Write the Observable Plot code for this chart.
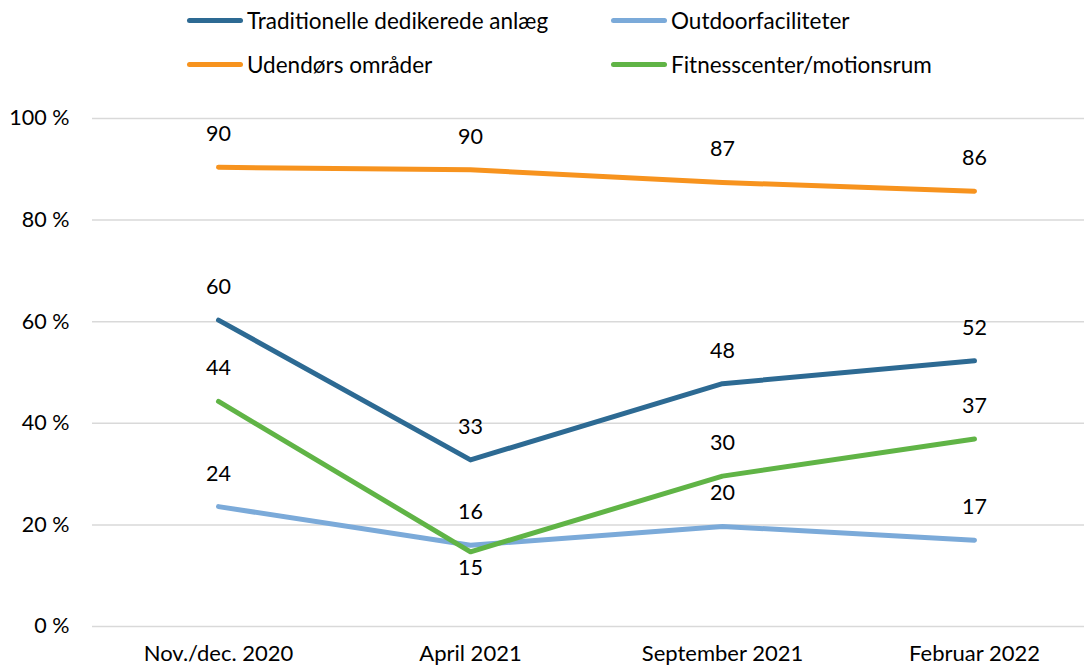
<!DOCTYPE html>
<html><head><meta charset="utf-8">
<script src="https://cdn.jsdelivr.net/npm/d3@7"></script>
<script src="https://cdn.jsdelivr.net/npm/@observablehq/plot@0.6"></script>
<style>
html,body{margin:0;padding:0;background:#fff;overflow:hidden;}
body{width:1084px;height:666px;font-family:Lato,"Open Sans",sans-serif;}
#legend{position:relative;height:90px;width:1084px;}
.li{position:absolute;display:flex;align-items:center;font-size:22.5px;color:#000;white-space:nowrap;}
.sw{width:56px;height:5px;border-radius:3px;margin-right:4px;}
</style></head>
<body>
<div id="legend"></div>
<div id="chart"></div>
<script>
const periods = ["Nov./dec. 2020", "April 2021", "September 2021", "Februar 2022"];
const seriesNames = ["Traditionelle dedikerede anlæg", "Outdoorfaciliteter", "Udendørs områder", "Fitnesscenter/motionsrum"];
const traditionelle = [60.3, 32.8, 47.8, 52.3];
const outdoor = [23.6, 16.0, 19.7, 17.0];
const udendors = [90.4, 89.9, 87.4, 85.7];
const fitness = [44.3, 14.7, 29.6, 36.9];
const colors = ["#2D6A93", "#7BAAD9", "#F7931E", "#60B446"];
const yTicks = [0, 20, 40, 60, 80, 100];

const valuesBySeries = [traditionelle, outdoor, udendors, fitness];
const data = [];
seriesNames.forEach((s, i) => periods.forEach((p, j) => data.push({series: s, period: p, value: valuesBySeries[i][j]})));

// legend
const legend = document.getElementById("legend");
const legendPos = [[187, 22], [611, 22], [187, 66], [611, 66]];
seriesNames.forEach((s, i) => {
  const d = document.createElement("div");
  d.className = "li";
  d.style.left = legendPos[i][0] + "px";
  d.style.top = (legendPos[i][1] - 15) + "px";
  d.innerHTML = `<div class="sw" style="background:${colors[i]}"></div><span>${s}</span>`;
  legend.appendChild(d);
});

const isBelow = d => d.series === "Fitnesscenter/motionsrum" && d.period === "April 2021";
const font = 21.5;

const chart = Plot.plot({
  width: 1084,
  height: 576,
  marginTop: 28,
  marginBottom: 40,
  marginLeft: 92,
  marginRight: 0,
  style: {fontFamily: "Lato, 'Open Sans', sans-serif", fontSize: font + "px", color: "#000", background: "#fff"},
  x: {type: "point", domain: periods, range: [217, 975], padding: 0, label: null},
  y: {domain: [0, 100], label: null},
  color: {domain: seriesNames, range: colors},
  marks: [
    Plot.ruleY(yTicks, {stroke: "#d9d9d9", strokeWidth: 1.5}),
    Plot.axisY(yTicks, {tickSize: 0, tickPadding: 23, tickFormat: d => d + " %", fontSize: font}),
    Plot.axisX({tickSize: 0, tickPadding: 19, fontSize: 22}),
    Plot.line(data, {x: "period", y: "value", z: "series", stroke: "series", strokeWidth: 5, strokeLinecap: "round", strokeLinejoin: "round"}),
    Plot.text(data.filter(d => !isBelow(d)), {x: "period", y: "value", text: d => Math.round(d.value), dy: -33, fill: "#000", fontSize: font}),
    Plot.text(data.filter(isBelow), {x: "period", y: "value", text: d => Math.round(d.value), dy: 16, fill: "#000", fontSize: font})
  ]
});
document.getElementById("chart").appendChild(chart);
</script>
</body></html>
